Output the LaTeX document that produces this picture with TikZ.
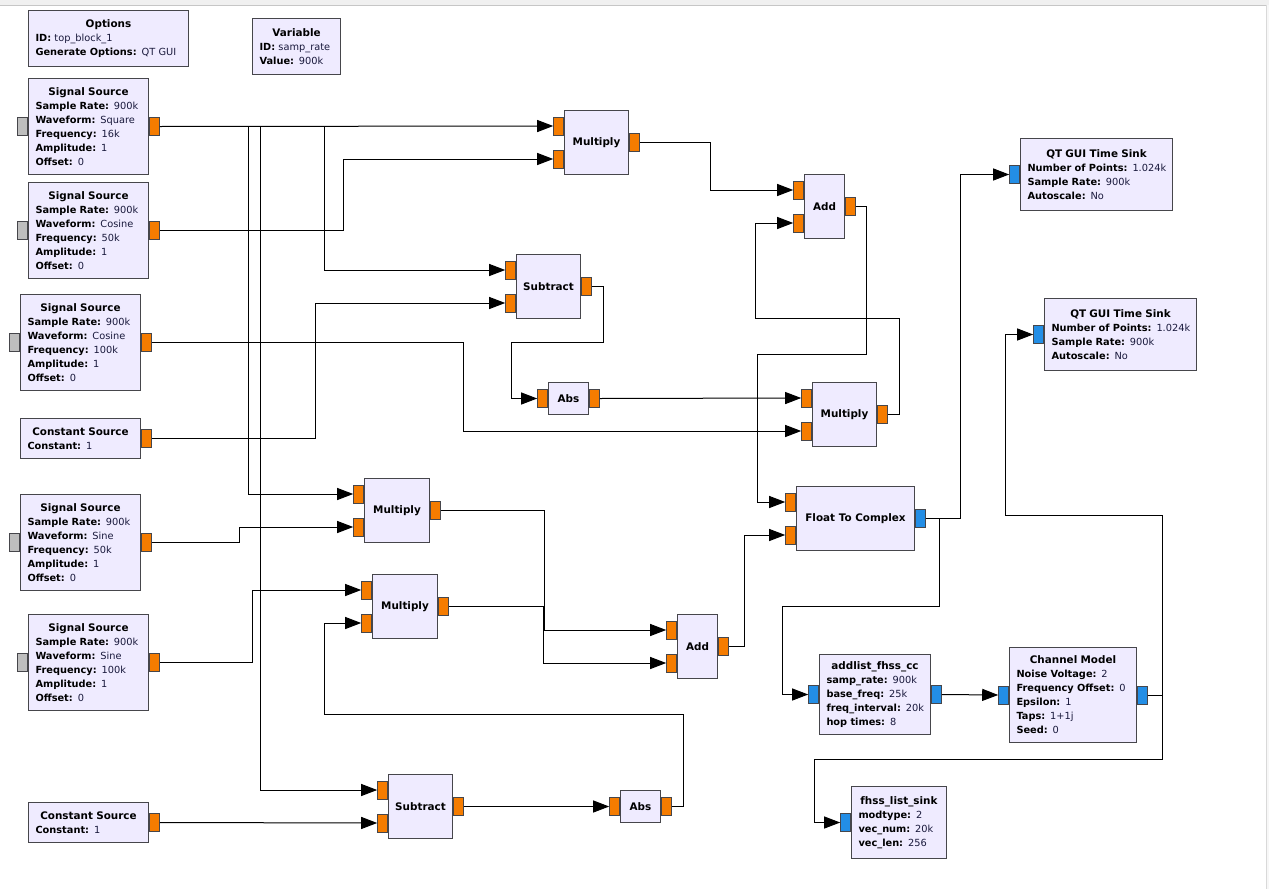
\documentclass[tikz,border=0pt]{standalone}
\usepackage{fontspec}
\setmainfont{DejaVu Sans}
\usepackage{tikz}
\usetikzlibrary{arrows.meta, positioning}
\definecolor{blkfill}{RGB}{239,235,255}
\definecolor{blkline}{RGB}{70,70,75}
\definecolor{portorange}{RGB}{245,124,0}
\definecolor{portblue}{RGB}{35,142,230}
\definecolor{portgray}{RGB}{190,190,190}
\definecolor{valtext}{RGB}{25,25,60}
\newcommand{\titlefont}{\fontsize{10.4}{14}\selectfont\bfseries}
\newcommand{\ttl}[1]{\noindent\makebox[\hsize]{\titlefont #1}}
\newcommand{\prm}[2]{\mbox{\textbf{#1:} \textcolor{valtext}{#2}}}
\tikzset{
  pblk/.style={rectangle, draw=blkline, fill=blkfill, line width=1pt,
    anchor=north west, inner xsep=7pt, inner ysep=0pt, align=left,
    font=\fontsize{9.8}{14}\selectfont},
  opblk/.style={rectangle, draw=blkline, fill=blkfill, line width=1pt,
    anchor=north west, inner sep=0pt, font=\titlefont},
  oport/.style={rectangle, draw=blkline, fill=portorange, line width=0.8pt,
    minimum width=10pt, minimum height=18pt, inner sep=0pt},
  cport/.style={oport, fill=portblue},
  gport/.style={oport, fill=portgray},
  wire/.style={line width=1pt, -{Triangle[length=16pt,width=12pt]}}
}
\begin{document}
\begin{tikzpicture}[x=1pt, y=-1pt]
  \useasboundingbox (0,0) rectangle (1269,889);
  \fill[white] (0,0) rectangle (1269,889);
  % window edges
  \fill[gray!12] (0,0) rectangle (1269,5);
  \draw[gray!45, line width=0.8pt] (0,5) -- (1269,5);
  \fill[gray!6] (1266,5) rectangle (1269,889);
  \draw[gray!30, line width=0.8pt] (1266,5) -- (1266,889);

  % Options and variable
  \node[pblk, text width=146pt, minimum height=56pt] (opts) at (28,10)
    {\ttl{Options}\\\prm{ID}{top\_block\_1}\\\prm{Generate Options}{QT GUI}};
  \node[pblk, text width=74pt, minimum height=56pt] (var) at (252,18)
    {\ttl{Variable}\\\prm{ID}{samp\_rate}\\\prm{Value}{900k}};

  % Sources
  \node[pblk, text width=106pt, minimum height=96pt] (src1) at (28,78)
    {\ttl{Signal Source}\\\prm{Sample Rate}{900k}\\\prm{Waveform}{Square}\\
     \prm{Frequency}{16k}\\\prm{Amplitude}{1}\\\prm{Offset}{0}};
  \node[pblk, text width=106pt, minimum height=96pt] (src2) at (28,182)
    {\ttl{Signal Source}\\\prm{Sample Rate}{900k}\\\prm{Waveform}{Cosine}\\
     \prm{Frequency}{50k}\\\prm{Amplitude}{1}\\\prm{Offset}{0}};
  \node[pblk, text width=106pt, minimum height=96pt] (src3) at (20,294)
    {\ttl{Signal Source}\\\prm{Sample Rate}{900k}\\\prm{Waveform}{Cosine}\\
     \prm{Frequency}{100k}\\\prm{Amplitude}{1}\\\prm{Offset}{0}};
  \node[pblk, text width=106pt, minimum height=40pt] (const1) at (20,418)
    {\ttl{Constant Source}\\\prm{Constant}{1}};
  \node[pblk, text width=106pt, minimum height=96pt] (src4) at (20,494)
    {\ttl{Signal Source}\\\prm{Sample Rate}{900k}\\\prm{Waveform}{Sine}\\
     \prm{Frequency}{50k}\\\prm{Amplitude}{1}\\\prm{Offset}{0}};
  \node[pblk, text width=106pt, minimum height=96pt] (src5) at (28,614)
    {\ttl{Signal Source}\\\prm{Sample Rate}{900k}\\\prm{Waveform}{Sine}\\
     \prm{Frequency}{100k}\\\prm{Amplitude}{1}\\\prm{Offset}{0}};
  \node[pblk, text width=106pt, minimum height=40pt] (const2) at (28,802)
    {\ttl{Constant Source}\\\prm{Constant}{1}};

  % Math blocks
  \node[opblk, minimum width=64pt, minimum height=64pt] (multA) at (564,110) {Multiply};
  \node[opblk, minimum width=40pt, minimum height=64pt] (addA) at (804,174) {Add};
  \node[opblk, minimum width=64pt, minimum height=64pt] (subA) at (516,254) {Subtract};
  \node[opblk, minimum width=40pt, minimum height=32pt] (absA) at (548,382) {Abs};
  \node[opblk, minimum width=64pt, minimum height=64pt] (multB) at (812,382) {Multiply};
  \node[opblk, minimum width=65pt, minimum height=64pt] (multC) at (364,478) {Multiply};
  \node[opblk, minimum width=65pt, minimum height=64pt] (multD) at (372,574) {Multiply};
  \node[opblk, minimum width=40pt, minimum height=64pt] (addB) at (677,614) {Add};
  \node[opblk, minimum width=64pt, minimum height=64pt] (subB) at (388,774) {Subtract};
  \node[opblk, minimum width=40pt, minimum height=32pt] (absB) at (620,790) {Abs};
  \node[opblk, minimum width=118pt, minimum height=64pt] (f2c) at (796,486) {Float To Complex};

  % Complex side
  \node[pblk, text width=138pt, minimum height=72pt] (sinkA) at (1020,138)
    {\ttl{QT GUI Time Sink}\\\prm{Number of Points}{1.024k}\\\prm{Sample Rate}{900k}\\\prm{Autoscale}{No}};
  \node[pblk, text width=138pt, minimum height=72pt] (sinkB) at (1044,298)
    {\ttl{QT GUI Time Sink}\\\prm{Number of Points}{1.024k}\\\prm{Sample Rate}{900k}\\\prm{Autoscale}{No}};
  \node[pblk, text width=97pt, minimum height=80pt] (fhss) at (819,654)
    {\ttl{addlist\_fhss\_cc}\\\prm{samp\_rate}{900k}\\\prm{base\_freq}{25k}\\
     \prm{freq\_interval}{20k}\\\prm{hop times}{8}};
  \node[pblk, text width=113pt, minimum height=95pt] (chan) at (1009,647)
    {\ttl{Channel Model}\\\prm{Noise Voltage}{2}\\\prm{Frequency Offset}{0}\\
     \prm{Epsilon}{1}\\\prm{Taps}{1+1j}\\\prm{Seed}{0}};
  \node[pblk, text width=81pt, minimum height=72pt] (lsink) at (851,786)
    {\ttl{fhss\_list\_sink}\\\prm{modtype}{2}\\\prm{vec\_num}{20k}\\\prm{vec\_len}{256}};

  % Ports
  \foreach \b in {src1,src2,src3,src4,src5} {
    \node[gport, left=0pt of \b] (\b m) {};
    \node[oport, right=0pt of \b] (\b o) {};
  }
  \foreach \b in {const1,const2,multA,addA,subA,absA,multB,multC,multD,addB,subB,absB}
    \node[oport, right=0pt of \b] (\b o) {};
  \foreach \b in {multA,addA,subA,multB,multC,multD,addB,subB,f2c} {
    \node[oport, left=0pt of \b.north west, yshift=-16pt] (\b a) {};
    \node[oport, left=0pt of \b.south west, yshift=16pt] (\b b) {};
  }
  \node[oport, left=0pt of absA] (absAi) {};
  \node[oport, left=0pt of absB] (absBi) {};
  \node[cport, right=0pt of f2c] (f2co) {};
  \foreach \b in {sinkA,sinkB,fhss,chan,lsink}
    \node[cport, left=0pt of \b] (\b i) {};
  \node[cport, right=0pt of fhss] (fhsso) {};
  \node[cport, right=0pt of chan] (chano) {};

  % Connections
  \draw[wire] (src1o.east) -- (multAa.west);
  \draw[wire] (src1o.east) -- ++(89,0) |- (multCa.west);
  \draw[wire] (src1o.east) -- ++(101,0) |- (subBa.west);
  \draw[wire] (src1o.east) -- ++(165,0) |- (subAa.west);
  \draw[wire] (src2o.east) -- ++(184,0) |- (multAb.west);
  \draw[wire] (src3o.east) -- ++(312,0) |- (multBb.west);
  \draw[wire] (const1o.east) -- ++(164,0) |- (subAb.west);
  \draw[wire] (subAo.east) -- ++(12,0) -- ++(0,56) -- ++(-92,0) |- (absAi.west);
  \draw[wire] (absAo.east) -- (multBa.west);
  \draw[wire] (multAo.east) -- ++(71,0) |- (addAa.west);
  \draw[wire] (multBo.east) -- ++(12,0) -- ++(0,-96) -- ++(-144,0) |- (addAb.west);
  \draw[wire] (addAo.east) -- ++(11,0) -- ++(0,148) -- ++(-109,0) |- (f2ca.west);
  \draw[wire] (src4o.east) -- ++(88,0) |- (multCb.west);
  \draw[wire] (src5o.east) -- ++(93,0) |- (multDa.west);
  \draw[wire] (multCo.east) -- ++(104,0) |- (addBa.west);
  \draw[wire] (multDo.east) -- ++(95,0) |- (addBb.west);
  \draw[wire] (absBo.east) -- ++(12,0) -- ++(0,-92) -- ++(-359,0) |- (multDb.west);
  \draw[wire] (const2o.east) -- (subBb.west);
  \draw[wire] (subBo.east) -- (absBi.west);
  \draw[wire] (addBo.east) -- ++(16,0) |- (f2cb.west);
  \draw[wire] (f2co.east) -- ++(35,0) |- (sinkAi.west);
  \draw[wire] (f2co.east) -- ++(14,0) -- ++(0,88) -- ++(-157,0) |- (fhssi.west);
  \draw[wire] (fhsso.east) -- (chani.west);
  \draw[wire] (chano.east) -- ++(15,0) -- ++(0,-180) -- ++(-157,0) |- (sinkBi.west);
  \draw[wire] (chano.east) -- ++(15,0) -- ++(0,64) -- ++(-348,0) |- (lsinki.west);
\end{tikzpicture}
\end{document}
